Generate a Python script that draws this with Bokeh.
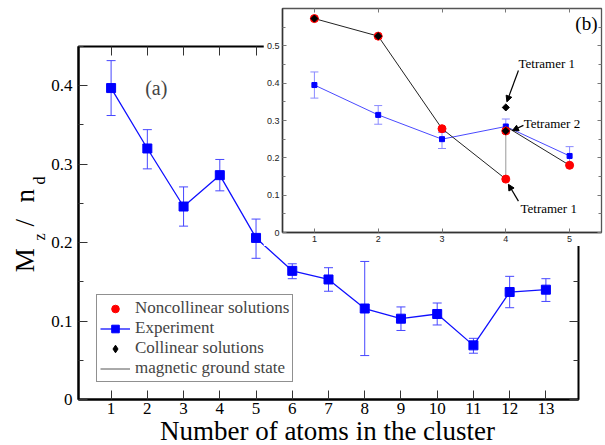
import math
from bokeh.plotting import figure
from bokeh.models import (ColumnDataSource, Range1d, LinearAxis, FixedTicker, Whisker, TeeHead,
                          Legend, LegendItem, Label, Arrow, NormalHead, GridBox)
from bokeh.embed import file_html
from bokeh.resources import INLINE
from bokeh.core.properties import value

SERIF = "Liberation Serif"
SANS = "Liberation Sans"

# ---------------- main panel (a) data ----------------
exp_n = [1, 2, 3, 4, 5, 6, 7, 8, 9, 10, 11, 12, 13]
exp_mz = [0.397, 0.320, 0.246, 0.286, 0.206, 0.164, 0.153, 0.116, 0.103, 0.109, 0.069, 0.137, 0.140]
exp_lo = [0.362, 0.294, 0.221, 0.266, 0.180, 0.154, 0.138, 0.056, 0.088, 0.095, 0.059, 0.117, 0.125]
exp_hi = [0.432, 0.344, 0.271, 0.306, 0.230, 0.173, 0.168, 0.176, 0.118, 0.123, 0.078, 0.157, 0.154]

main_x_ticks = [1, 2, 3, 4, 5, 6, 7, 8, 9, 10, 11, 12, 13]
main_y_ticks = [0, 0.1, 0.2, 0.3, 0.4]
main_y_tick_labels = ["0", "0.1", "0.2", "0.3", "0.4"]
main_y_minor = [0.05, 0.15, 0.25, 0.35, 0.45]

legend_labels = ["Noncollinear solutions", "Experiment", "Collinear solutions", "magnetic ground state"]
x_title = "Number of atoms in the cluster"
# y title "M_z / n_d" split into pieces: (text, is_subscript)
y_title_parts = [("M", False), ("z", True), ("/", False), ("n", False), ("d", True)]

# ---------------- inset panel (b) data ----------------
inset_exp_n = [1, 2, 3, 4, 5]
inset_exp_mz = [0.395, 0.315, 0.250, 0.284, 0.205]
inset_exp_lo = [0.360, 0.290, 0.225, 0.266, 0.181]
inset_exp_hi = [0.430, 0.340, 0.268, 0.304, 0.230]

noncol_n = [1, 2, 3, 4, 4, 5]
noncol_mz = [0.573, 0.526, 0.278, 0.143, 0.272, 0.180]

col_n = [1, 2, 4, 4]
col_mz = [0.573, 0.526, 0.335, 0.272]

ground_n = [1, 2, 3, 4, 4, 5]
ground_mz = [0.573, 0.526, 0.278, 0.143, 0.284, 0.180]

inset_x_ticks = [1, 2, 3, 4, 5]
inset_y_ticks = [0, 0.1, 0.2, 0.3, 0.4, 0.5]
inset_y_tick_labels = ["0", "0.1", "0.2", "0.3", "0.4", "0.5"]
inset_y_minor = [0.05, 0.15, 0.25, 0.35, 0.45, 0.55]

annot_text = ["Tetramer 1", "Tetramer 2", "Tetramer 1"]
annot_x = [4.20, 4.28, 4.23]
annot_y = [0.452, 0.292, 0.065]
arrow_x0 = [4.198, 4.276, 4.198]
arrow_y0 = [0.434, 0.287, 0.084]
arrow_x1 = [4.017, 4.104, 4.041]
arrow_y1 = [0.350, 0.273, 0.129]

# ---------------- geometry (pixels) ----------------
YL_W, MAIN_W, MAIN_H, INSET_W, INSET_H, XL_H, XL_OVERLAP = 48, 550, 422, 340, 246, 31, 8
GAP_W = 263 - YL_W


def blank_fig(w, h):
    f = figure(width=w, height=h, x_range=Range1d(0, w), y_range=Range1d(0, h),
               output_backend="svg", toolbar_location=None, min_border=0,
               min_border_left=0, min_border_right=0, min_border_top=0, min_border_bottom=0,
               x_axis_location=None, y_axis_location=None, frame_align=False)
    f.grid.grid_line_color = None
    f.outline_line_color = None
    f.background_fill_alpha = 0
    f.border_fill_alpha = 0
    return f


# ======================= main figure =======================
p = figure(width=MAIN_W, height=MAIN_H, x_range=Range1d(0.1, 13.9), y_range=Range1d(0, 0.45),
           output_backend="svg", toolbar_location=None, frame_align=False,
           min_border_left=28, min_border_right=20, min_border_top=46, min_border_bottom=23)
p.grid.grid_line_color = None
p.outline_line_color = "black"
p.outline_line_width = 2
p.background_fill_color = "white"
p.border_fill_color = "white"

xa = p.xaxis[0]
xa.ticker = FixedTicker(ticks=main_x_ticks, minor_ticks=[])
xa.major_label_text_font = SERIF
xa.major_label_text_font_size = "17px"
xa.major_label_text_color = "black"
xa.major_tick_in = 9
xa.major_tick_out = 0
xa.major_tick_line_color = "#333333"
xa.minor_tick_line_color = None
xa.axis_line_width = 2
xa.major_label_standoff = 3

ya = p.yaxis[0]
ya.ticker = FixedTicker(ticks=main_y_ticks, minor_ticks=main_y_minor)
ya.major_label_overrides = {t: s for t, s in zip(main_y_ticks, main_y_tick_labels)}
ya.major_label_text_font = SERIF
ya.major_label_text_font_size = "17px"
ya.major_label_text_color = "black"
ya.major_tick_in = 9
ya.major_tick_out = 0
ya.minor_tick_in = 5
ya.minor_tick_out = 0
ya.major_tick_line_color = "#333333"
ya.minor_tick_line_color = "#333333"
ya.axis_line_width = 2
ya.major_label_standoff = 6

p.add_layout(LinearAxis(ticker=FixedTicker(ticks=main_x_ticks, minor_ticks=[]),
                        major_tick_in=9, major_tick_out=0, major_label_text_font_size="0px",
                        major_label_standoff=0, axis_line_color=None, minor_tick_line_color=None,
                        major_tick_line_color="#333333"), "above")
p.add_layout(LinearAxis(ticker=FixedTicker(ticks=main_y_ticks, minor_ticks=main_y_minor),
                        major_tick_in=9, major_tick_out=0, minor_tick_in=5, minor_tick_out=0,
                        major_label_text_font_size="0px", major_label_standoff=0,
                        axis_line_color=None, major_tick_line_color="#333333",
                        minor_tick_line_color="#333333"), "right")

src_exp = ColumnDataSource(dict(x=exp_n, y=exp_mz, lo=exp_lo, hi=exp_hi))
wh = Whisker(source=src_exp, base="x", upper="hi", lower="lo", dimension="height",
             line_color="#4646ff", line_width=1,
             upper_head=TeeHead(size=9, line_color="#4646ff", line_width=1),
             lower_head=TeeHead(size=9, line_color="#4646ff", line_width=1))
wh.level = "underlay"
p.add_layout(wh)
r_exp_line = p.line("x", "y", source=src_exp, line_color="#1010ff", line_width=1.3)
r_exp_sq = p.scatter("x", "y", source=src_exp, marker="square", size=9,
                     fill_color="#0000ff", line_color="#0000ff")

# legend-only renderers (hidden in panel a, their data are drawn in panel b)
r_nc = p.scatter(noncol_n, noncol_mz, marker="circle", size=10, fill_color="red",
                 line_color="red", visible=False)
r_col = p.scatter(col_n, col_mz, marker="diamond", size=10, fill_color="black",
                  line_color="black", visible=False)
r_gs = p.line(ground_n, ground_mz, line_color="#555555", line_width=1, visible=False)

legend = Legend(items=[LegendItem(label=legend_labels[0], renderers=[r_nc]),
                       LegendItem(label=legend_labels[1], renderers=[r_exp_line, r_exp_sq]),
                       LegendItem(label=legend_labels[2], renderers=[r_col]),
                       LegendItem(label=legend_labels[3], renderers=[r_gs])],
                location=(18, 17))
legend.label_text_font = SERIF
legend.label_text_font_size = "17px"
legend.glyph_width = 30
legend.glyph_height = 19
legend.label_height = 16
legend.spacing = -2
legend.padding = 3
legend.margin = 0
legend.label_standoff = 5
legend.border_line_color = "#222222"
legend.border_line_width = 1
legend.background_fill_color = "white"
legend.background_fill_alpha = 1
legend.inactive_fill_alpha = 0
p.add_layout(legend)

p.add_layout(Label(x=1.94, y=0.397, text="(a)", text_font=SERIF, text_font_size="20px",
                   text_baseline="middle", text_align="left"))

# ======================= axis-title strips =======================
yl = blank_fig(YL_W, MAIN_H)
big = [t for t, s in y_title_parts if not s]
small = [t for t, s in y_title_parts if s]
yl.text(x=[24.2, 24.2, 24.2], y=[150.3, 196, 220], text=big, angle=math.pi / 2,
        text_font=value(SERIF), text_font_size="27px", text_align="left",
        text_baseline="middle", text_color="black")
yl.text(x=[38.5, 38.5], y=[182, 238], text=small, angle=math.pi / 2,
        text_font=value(SERIF), text_font_size="16px", text_align="left",
        text_baseline="middle", text_color="black")

xl = blank_fig(MAIN_W, XL_H)
xl.text(x=[279], y=[15], text=[x_title], text_font=value(SERIF), text_font_size="27px",
        text_align="center", text_baseline="middle", text_color="black")

# ======================= inset figure =======================
q = figure(width=INSET_W, height=INSET_H, x_range=Range1d(0.5, 5.5), y_range=Range1d(0, 0.6),
           output_backend="svg", toolbar_location=None, frame_align=False,
           min_border_left=19, min_border_right=2, min_border_top=8, min_border_bottom=14)
q.grid.grid_line_color = None
q.outline_line_color = "#555555"
q.outline_line_width = 1.3
q.background_fill_color = "white"
q.border_fill_color = "white"

qx = q.xaxis[0]
qx.ticker = FixedTicker(ticks=inset_x_ticks, minor_ticks=[])
qx.major_label_text_font = SANS
qx.major_label_text_font_size = "9px"
qx.major_label_text_color = "#222222"
qx.major_tick_in = 4
qx.major_tick_out = 0
qx.major_tick_line_color = "#777777"
qx.minor_tick_line_color = None
qx.axis_line_color = "#333333"
qx.axis_line_width = 1.5
qx.major_label_standoff = 3

qy = q.yaxis[0]
qy.ticker = FixedTicker(ticks=inset_y_ticks, minor_ticks=inset_y_minor)
qy.major_label_overrides = {t: s for t, s in zip(inset_y_ticks, inset_y_tick_labels)}
qy.major_label_text_font = SANS
qy.major_label_text_font_size = "9px"
qy.major_label_text_color = "#222222"
qy.major_tick_in = 4
qy.major_tick_out = 0
qy.minor_tick_in = 3
qy.minor_tick_out = 0
qy.major_tick_line_color = "#777777"
qy.minor_tick_line_color = "#777777"
qy.axis_line_color = "#333333"
qy.axis_line_width = 1.5
qy.major_label_standoff = 3

q.add_layout(LinearAxis(ticker=FixedTicker(ticks=inset_x_ticks, minor_ticks=[]),
                        major_tick_in=4, major_tick_out=0, major_label_text_font_size="0px",
                        major_label_standoff=0, axis_line_color=None, minor_tick_line_color=None,
                        major_tick_line_color="#777777"), "above")
q.add_layout(LinearAxis(ticker=FixedTicker(ticks=inset_y_ticks, minor_ticks=inset_y_minor),
                        major_tick_in=4, major_tick_out=0, minor_tick_in=3, minor_tick_out=0,
                        major_label_text_font_size="0px", major_label_standoff=0,
                        axis_line_color=None, major_tick_line_color="#777777",
                        minor_tick_line_color="#777777"), "right")

src_iexp = ColumnDataSource(dict(x=inset_exp_n, y=inset_exp_mz, lo=inset_exp_lo, hi=inset_exp_hi))
qwh = Whisker(source=src_iexp, base="x", upper="hi", lower="lo", dimension="height",
              line_color="#8a8aff", line_width=1,
              upper_head=TeeHead(size=8, line_color="#8a8aff", line_width=1),
              lower_head=TeeHead(size=8, line_color="#8a8aff", line_width=1))
qwh.level = "underlay"
q.add_layout(qwh)
q.line("x", "y", source=src_iexp, line_color="#4a4aff", line_width=1)
q.scatter("x", "y", source=src_iexp, marker="square", size=5, fill_color="#0000ff", line_color="#0000ff")

seg_x0 = ground_n[:-1]
seg_x1 = ground_n[1:]
seg_y0 = ground_mz[:-1]
seg_y1 = ground_mz[1:]
seg_col = ["#999999" if a == b else "#222222" for a, b in zip(seg_x0, seg_x1)]
q.segment(x0=seg_x0, y0=seg_y0, x1=seg_x1, y1=seg_y1, line_color=seg_col, line_width=1)

q.scatter(noncol_n, noncol_mz, marker="circle", size=8, fill_color="red", line_color="red")
q.scatter(col_n, col_mz, marker="square", angle=math.pi / 4, size=5,
          fill_color="black", line_color="black")

q.text(x=annot_x, y=annot_y, text=annot_text, text_font=value(SERIF), text_font_size="13px",
       text_baseline="middle", text_align="left", text_color="black")
for xs, ys, xe, ye in zip(arrow_x0, arrow_y0, arrow_x1, arrow_y1):
    q.add_layout(Arrow(x_start=xs, y_start=ys, x_end=xe, y_end=ye, line_width=1.2,
                       line_color="black",
                       end=NormalHead(size=6, fill_color="black", line_color="black", line_width=1)))

q.text(x=[5.09], y=[0.56], text=["(b)"], text_font=value(SERIF), text_font_size="19px",
       text_baseline="middle", text_align="left", text_color="black")

# ======================= overlapping grid layout =======================
grid = GridBox(children=[(yl, 0, 0, 3, 1), (p, 0, 1, 3, 2), (xl, 2, 1, 2, 2), (q, 0, 2, 1, 1)],
               rows=[f"{INSET_H}px", f"{MAIN_H - INSET_H - XL_OVERLAP}px",
                     f"{XL_OVERLAP}px", f"{XL_H - XL_OVERLAP}px"],
               cols=[f"{YL_W}px", f"{GAP_W}px", f"{INSET_W}px"], spacing=0)

open("out.html", "w").write(file_html(grid, INLINE))
